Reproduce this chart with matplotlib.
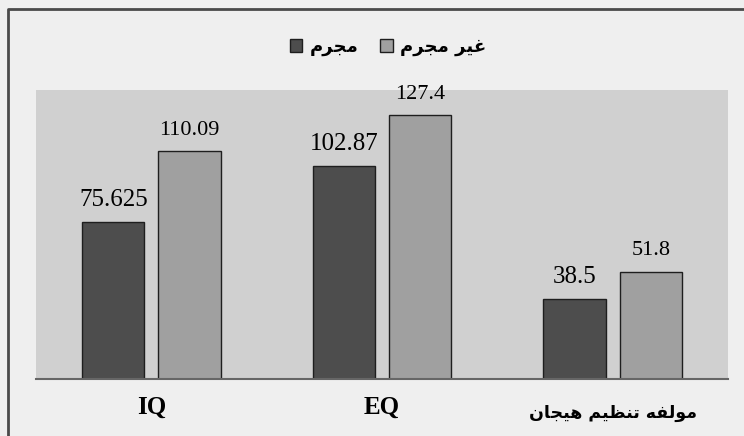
import matplotlib
matplotlib.use('Agg')
import matplotlib.pyplot as plt
from matplotlib.lines import Line2D
import numpy as np

# arabic text given in presentation forms, visual (left to right) order
lbl_iq = 'IQ'
lbl_eq = 'EQ'
lbl_emo = '\uFEE5\uFE8E\uFEA0\uFEF4\uFEEB \uFEE2\uFEF4\uFEC8\uFEE8\uFE97 \uFEEA\uFED4\uFEDF\uFEEE\uFEE3'
categories = [lbl_iq, lbl_eq, lbl_emo]

name_dark = '\uFEE1\uFEAE\uFEA0\uFEE3'                    # mojrem
name_light = '\uFEE1\uFEAE\uFEA0\uFEE3 \uFEAE\uFEF4\uFECF'  # gheir mojrem

dark_vals = [75.625, 102.87, 38.5]
light_vals = [110.09, 127.4, 51.8]
dark_txt = ['75.625', '102.87', '38.5']
light_txt = ['110.09', '127.4', '51.8']

c_dark = '#4d4d4d'
c_light = '#a0a0a0'
serif = ['Liberation Serif', 'DejaVu Serif']
arab = ['DejaVu Sans']

fig = plt.figure(figsize=(7.44, 4.36), dpi=100)
fig.patch.set_facecolor('#efefef')
# outer frame: only top and left edges are inside the image
fx, fy = 8/744, 1 - 9/436
fig.add_artist(Line2D([fx, fx, 1.0], [0, fy, fy], transform=fig.transFigure,
                      color='#4a4a4a', linewidth=2))

ax = fig.add_axes([36/744, 57/436, 692/744, 289/436])
ax.set_facecolor('#d0d0d0')

x = np.arange(len(categories))
w = 0.27
gap = 0.06
b1 = ax.bar(x - (w + gap)/2, dark_vals, w, color=c_dark, edgecolor='#1e1e1e', linewidth=1, label=name_dark)
b2 = ax.bar(x + (w + gap)/2, light_vals, w, color=c_light, edgecolor='#1e1e1e', linewidth=1, label=name_light)

for r, t in zip(b1, dark_txt):
    ax.annotate(t, (r.get_x() + r.get_width()/2, r.get_height()), xytext=(0, 8),
                textcoords='offset points', ha='center', va='bottom', fontsize=18, family=serif)
for r, t in zip(b2, light_txt):
    ax.annotate(t, (r.get_x() + r.get_width()/2, r.get_height()), xytext=(0, 8),
                textcoords='offset points', ha='center', va='bottom', fontsize=16, family=serif)

ax.set_xlim(-0.5, 2.5)
ax.set_ylim(0, 139.4)
ax.set_yticks([])
ax.set_xticks(x)
ax.set_xticklabels(categories)
ax.tick_params(axis='x', length=0, pad=12)
for i, tl in enumerate(ax.get_xticklabels()):
    if i < 2:
        tl.set_fontfamily(serif)
        tl.set_fontsize(18)
        tl.set_fontweight('bold')
    else:
        tl.set_fontfamily(arab)
        tl.set_fontsize(12.5)
        tl.set_fontweight('bold')
ax.xaxis.get_major_ticks()[2].set_pad(18)
for s in ['top', 'left', 'right']:
    ax.spines[s].set_visible(False)
ax.spines['bottom'].set_color('#666666')
ax.spines['bottom'].set_linewidth(1.5)

leg = fig.legend(handles=[b1, b2], loc='center', bbox_to_anchor=(388/744, 1 - 47/436),
                 ncol=2, frameon=False, handlelength=0.7, handleheight=0.7,
                 handletextpad=0.4, columnspacing=1.2, prop={'family': arab, 'size': 13, 'weight': 'bold'})

fig.savefig('out.png', dpi=100, facecolor=fig.get_facecolor())
